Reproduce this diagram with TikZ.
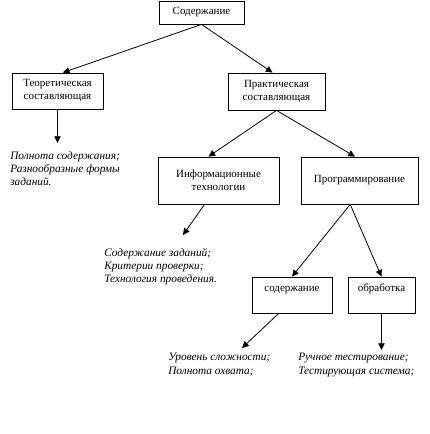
\documentclass[tikz,border=0pt]{standalone}
\usepackage{fontspec}
\setmainfont{Liberation Serif}
\usetikzlibrary{arrows.meta}
\tikzstyle{block} = [rectangle, draw=black, line width=0.6pt, text centered, align=center, inner sep=0pt, font=\fontsize{8.25}{9.75}\selectfont]
\tikzstyle{arrow} = [line width=0.6pt, -{Triangle[length=5pt,width=4.8pt]}]
\tikzstyle{note} = [anchor=north west, align=left, inner sep=0pt, font=\fontsize{8.5}{10}\selectfont\itshape]

\begin{document}
\begin{tikzpicture}[x=0.75pt, y=-0.75pt]
    \useasboundingbox (0,0) rectangle (429,434);

    \node (sod) [block, minimum width=63.75pt, minimum height=17.25pt] at (201.5,12.5) {Содержание};
    \node (teor) [block, minimum width=68.25pt, minimum height=27pt] at (57.5,91) {Теоретическая\\составляющая};
    \node (prakt) [block, minimum width=72.75pt, minimum height=27.75pt] at (276.5,91.5) {Практическая\\составляющая};
    \node (info) [block, minimum width=90.75pt, minimum height=35.25pt] at (218.5,180.5) {Информационные\\технологии};
    \node (prog) [block, minimum width=87.75pt, minimum height=35.25pt] at (359.5,180.5) {Программирование};
    \node (zad) [block, minimum width=60pt, text height=10.5pt, text depth=16.5pt] at (292,295) {содержание};
    \node (obr) [block, minimum width=50.25pt, text height=10.5pt, text depth=16.5pt] at (381.5,295) {обработка};

    \coordinate (teorend) at (57.5,143);
    \coordinate (infoend) at (183,235);
    \coordinate (zadend) at (242,348);
    \coordinate (obrend) at (381.5,350);

    \node (teortxt) [note] at (10,151) {Полнота содержания;\\Разнообразные формы\\заданий.};
    \node (infotxt) [note] at (104,248) {Содержание заданий;\\Критерии проверки;\\Технология проведения.};
    \node (zadtxt) [note] at (168,353) {Уровень сложности;\\Полнота охвата;};
    \node (obrtxt) [note] at (298,353) {Ручное тестирование;\\Тестирующая система;};

    \draw [arrow] (sod.south) -- ([xshift=4pt]teor.north);
    \draw [arrow] (sod.south) -- ([xshift=-3pt]prakt.north);
    \draw [arrow] (teor.south) -- (teorend);
    \draw [arrow] (prakt.south) -- ([xshift=-7.5pt]info.north);
    \draw [arrow] (prakt.south) -- ([xshift=-3.4pt]prog.north);
    \draw [arrow] ([xshift=-10.5pt]info.south) -- (infoend);
    \draw [arrow] ([xshift=-7pt]prog.south) -- (zad.north);
    \draw [arrow] ([xshift=-7pt]prog.south) -- (obr.north);
    \draw [arrow] ([xshift=-10pt]zad.south) -- (zadend);
    \draw [arrow] (obr.south) -- (obrend);

\end{tikzpicture}
\end{document}
